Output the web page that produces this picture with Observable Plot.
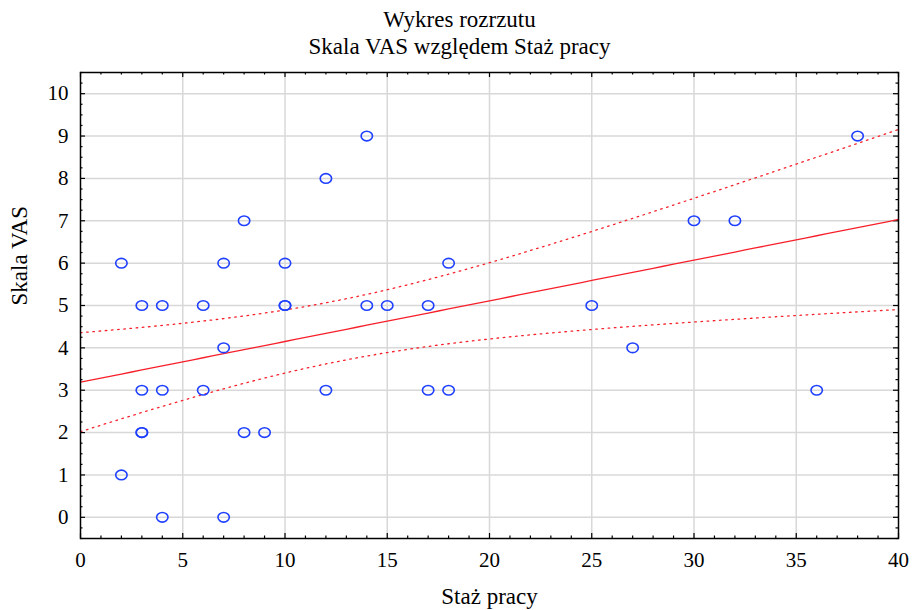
<!DOCTYPE html>
<html>
<head>
<meta charset="utf-8">
<script src="https://cdn.jsdelivr.net/npm/d3@7"></script>
<script src="https://cdn.jsdelivr.net/npm/@observablehq/plot@0.6"></script>
<style>
  body { margin: 0; background: #fff; }
  svg { display: block; }
  g[aria-label$="tick label"] text, g[aria-label$="tick label"] { font-size: 21px !important; }
</style>
</head>
<body>
<div id="chart"></div>
<script>
// --- Data ---
const stazPracy = [2, 2, 3, 3, 3, 3, 4, 4, 4, 6, 6, 7, 7, 7, 8, 8, 9, 10, 10, 10, 12, 12, 14, 14, 15, 17, 17, 18, 18, 25, 27, 30, 32, 36, 38];
const skalaVAS  = [6, 1, 5, 3, 2, 2, 5, 3, 0, 5, 3, 6, 4, 0, 7, 2, 2, 6, 5, 5, 8, 3, 9, 5, 5, 5, 3, 6, 3, 5, 4, 7, 7, 3, 9];
const xTicks = [0, 5, 10, 15, 20, 25, 30, 35, 40];
const yTicks = [0, 1, 2, 3, 4, 5, 6, 7, 8, 9, 10];
const titleLines = ["Wykres rozrzutu", "Skala VAS względem Staż pracy"];
const xLabel = "Staż pracy";
const yLabel = "Skala VAS";

const points = stazPracy.map((x, i) => ({x, y: skalaVAS[i]}));

// --- Linear regression with 95% confidence band ---
const n = points.length;
const mx = d3.mean(points, d => d.x), my = d3.mean(points, d => d.y);
const sxx = d3.sum(points, d => (d.x - mx) ** 2);
const sxy = d3.sum(points, d => (d.x - mx) * (d.y - my));
const slope = sxy / sxx, intercept = my - slope * mx;
const sse = d3.sum(points, d => (d.y - intercept - slope * d.x) ** 2);
const s = Math.sqrt(sse / (n - 2));
const tCrit = 2.0345; // t(0.975, df = 33)
const xs = d3.range(0, 40.001, 0.5);
const fit = xs.map(x => {
  const yhat = intercept + slope * x;
  const se = s * Math.sqrt(1 / n + (x - mx) ** 2 / sxx);
  return {x, yhat, lo: yhat - tCrit * se, hi: yhat + tCrit * se};
});

// minor ticks
const xMinor = d3.range(0, 40.001, 1).filter(d => d % 5 !== 0);
const yMinor = d3.range(-0.5, 10.5001, 0.25).filter(d => !Number.isInteger(d));

// ellipse symbol for markers
const ellipse = {
  draw(ctx, size) {
    const rx = 5.7, ry = 4.8, k = 0.5523;
    ctx.moveTo(rx, 0);
    ctx.bezierCurveTo(rx, k * ry, k * rx, ry, 0, ry);
    ctx.bezierCurveTo(-k * rx, ry, -rx, k * ry, -rx, 0);
    ctx.bezierCurveTo(-rx, -k * ry, -k * rx, -ry, 0, -ry);
    ctx.bezierCurveTo(k * rx, -ry, rx, -k * ry, rx, 0);
    ctx.closePath();
  }
};

const font = "'Liberation Serif', 'Times New Roman', serif";
const red = "#f7202a";
const blue = "#2040ff";

const W = 915, H = 610, mL = 80, mR = 17, mT = 72, mB = 72;
const pw = W - mL - mR, ph = H - mT - mB;
const major = 5, minor = 2.5;
const tk = {stroke: "#000", strokeWidth: 1.2};

const plot = Plot.plot({
  width: W,
  height: H,
  marginLeft: mL,
  marginRight: mR,
  marginTop: mT,
  marginBottom: mB,
  style: {fontFamily: font, fontSize: "21px", color: "#000", background: "#fff"},
  x: {domain: [0, 40], ticks: xTicks, tickFormat: d => d},
  y: {domain: [-0.5, 10.5], ticks: yTicks, tickFormat: d => d},
  marks: [
    Plot.gridX(xTicks.slice(1, -1), {stroke: "#d8d8d8", strokeOpacity: 1, strokeWidth: 1.5}),
    Plot.gridY(yTicks, {stroke: "#d8d8d8", strokeOpacity: 1, strokeWidth: 1.5}),
    Plot.axisX(xTicks, {tickSize: 0, tickPadding: 14, fontSize: 21, label: null}),
    Plot.axisY(yTicks, {tickSize: 0, tickPadding: 12, fontSize: 21, label: null}),
    // inward ticks on all four sides
    Plot.ruleX(xTicks, {x: d => d, insetTop: ph - major, ...tk}),
    Plot.ruleX(xMinor, {x: d => d, insetTop: ph - minor, ...tk}),
    Plot.ruleX(xTicks, {x: d => d, insetBottom: ph - major, ...tk}),
    Plot.ruleX(xMinor, {x: d => d, insetBottom: ph - minor, ...tk}),
    Plot.ruleY(yTicks, {y: d => d, insetRight: pw - major, ...tk}),
    Plot.ruleY(yMinor, {y: d => d, insetRight: pw - minor, ...tk}),
    Plot.ruleY(yTicks, {y: d => d, insetLeft: pw - major, ...tk}),
    Plot.ruleY(yMinor, {y: d => d, insetLeft: pw - minor, ...tk}),
    // regression & confidence band
    Plot.line(fit, {x: "x", y: "hi", stroke: red, strokeWidth: 1.3, strokeDasharray: "1.6,4.6"}),
    Plot.line(fit, {x: "x", y: "lo", stroke: red, strokeWidth: 1.3, strokeDasharray: "1.6,4.6"}),
    Plot.line(fit, {x: "x", y: "yhat", stroke: red, strokeWidth: 1.3}),
    // points
    Plot.dot(points, {x: "x", y: "y", symbol: ellipse, stroke: blue, strokeWidth: 1.6, fill: "none"}),
    Plot.frame({stroke: "#000", strokeWidth: 1.5}),
    // titles & axis labels
    Plot.text([titleLines[0]], {frameAnchor: "top", dx: -30, dy: -62, text: d => d, fontSize: 23, fill: "#000"}),
    Plot.text([titleLines[1]], {frameAnchor: "top", dx: -30, dy: -35, text: d => d, fontSize: 23, fill: "#000"}),
    Plot.text([xLabel], {frameAnchor: "bottom", dy: 65, text: d => d, fontSize: 23, fill: "#000"}),
    Plot.text([yLabel], {frameAnchor: "left", dx: -61, rotate: -90, text: d => d, fontSize: 23, fill: "#000"})
  ]
});
document.getElementById("chart").appendChild(plot);
</script>
</body>
</html>
